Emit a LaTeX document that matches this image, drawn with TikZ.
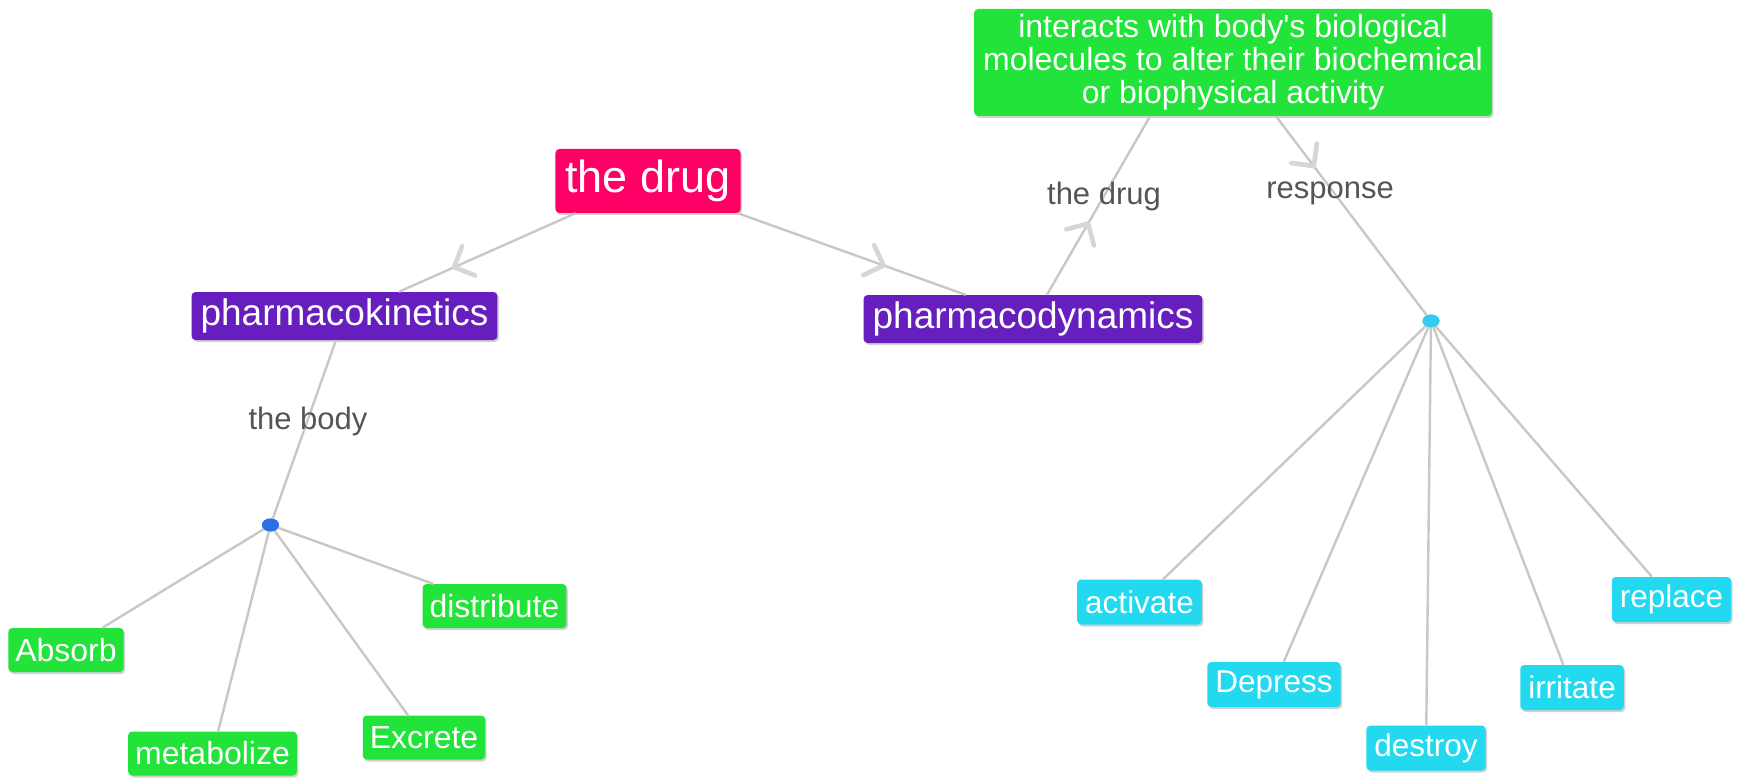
\documentclass[tikz,border=0pt]{standalone}
\usepackage{fontspec}
\setmainfont{Liberation Sans}
\usetikzlibrary{arrows.meta,shapes.geometric,shadows,calc,decorations.markings}

\definecolor{cred}{HTML}{FF0066}
\definecolor{cpurple}{HTML}{661EBE}
\definecolor{cgreen}{HTML}{22E33A}
\definecolor{ccyan}{HTML}{22D9EF}
\definecolor{cline}{HTML}{C8C8C8}
\definecolor{carrow}{HTML}{D6D6D6}
\definecolor{clabel}{HTML}{555555}
\definecolor{cdotL}{HTML}{2E6FE8}
\definecolor{cdotR}{HTML}{33CCEE}

\tikzset{
 box/.style={rounded corners=4pt, text=white, inner ysep=0pt, align=center,
   drop shadow={shadow xshift=1.5pt, shadow yshift=-2pt, opacity=0.18, fill=black}},
 rootbox/.style={box, fill=cred, font=\fontsize{45}{48}\selectfont, inner xsep=10pt, minimum height=64pt},
 midbox/.style={box, fill=cpurple, font=\fontsize{37}{40}\selectfont, inner xsep=9pt, minimum height=48pt},
 leafG/.style={box, fill=cgreen, font=\fontsize{32}{34}\selectfont, inner xsep=7pt, minimum height=44pt},
 leafC/.style={box, fill=ccyan, font=\fontsize{31.5}{34}\selectfont, inner xsep=8pt, minimum height=45pt},
 topbox/.style={box, fill=cgreen, font=\fontsize{32}{33}\selectfont, inner xsep=9pt, minimum height=107pt},
 linklabel/.style={text=clabel, font=\fontsize{31}{34}\selectfont, inner sep=0pt},
 hub/.style={ellipse, inner sep=0pt, minimum width=17pt, minimum height=13pt},
 link/.style={draw=cline, line width=2.4pt},
 arrowat/.style={postaction={decorate, decoration={markings,
   mark=at position #1 with {\arrow[carrow, line width=4.6pt]{Straight Barb[length=16pt, width=32pt, round]}}}}},
}

\begin{document}
\begin{tikzpicture}[x=1pt, y=-1pt]
\fill[white] (0,0) rectangle (1748,778);
\useasboundingbox (0,0) rectangle (1748,778);

% main nodes
\node[topbox] (top) at (1233,62.5) {interacts with body\textquotesingle s biological\\molecules to alter their biochemical\\or biophysical activity};
\node[rootbox] (drug) at (648,181) {the drug};
\node[midbox] (pk) at (344.5,316) {pharmacokinetics};
\node[midbox] (pd) at (1033,319) {pharmacodynamics};

% hubs
\node[hub, fill=cdotL] (dotL) at (270.5,525) {};
\node[hub, fill=cdotR] (dotR) at (1431,321) {};

% left leaves
\node[leafG] (absorb) at (66,650) {Absorb};
\node[leafG] (metab) at (212.5,753.5) {metabolize};
\node[leafG] (excrete) at (424,737.5) {Excrete};
\node[leafG] (distrib) at (494.5,606) {distribute};

% right leaves
\node[leafC] (activate) at (1139.5,602) {activate};
\node[leafC] (depress) at (1274,684.5) {Depress};
\node[leafC] (destroy) at (1426,748) {destroy};
\node[leafC] (irritate) at (1572,687.5) {irritate};
\node[leafC] (replace) at (1671.5,599.5) {replace};

% attachment points on the top box
\coordinate (gA) at ($(top.south west)!0.34!(top.south east)$);
\coordinate (gB) at ($(top.south west)!0.583!(top.south east)$);

% connectors
\draw[link, arrowat=0.70] (drug) -- (pk);
\draw[link, arrowat=0.65] (drug) -- (pd);
\draw[link, arrowat=0.41] (pd) -- (gA);
\draw[link, arrowat=0.26] (gB) -- (dotR);
\draw[link] (pk) -- (dotL);

\draw[link] (dotL) -- (absorb);
\draw[link] (dotL) -- (metab);
\draw[link] (dotL) -- (excrete);
\draw[link] (dotL) -- (distrib);

\draw[link] (dotR) -- (activate);
\draw[link] (dotR) -- (depress);
\draw[link] (dotR) -- (destroy);
\draw[link] (dotR) -- (irritate);
\draw[link] (dotR) -- (replace);

% redraw hubs on top
\node[hub, fill=cdotL] at (dotL) {};
\node[hub, fill=cdotR] at (dotR) {};

% linking phrases
\node[linklabel] (lblDrug) at (1104,196) {the drug};
\node[linklabel] (lblResp) at (1330,193) {response};
\node[linklabel] (lblBody) at (308,421) {the body};
\end{tikzpicture}
\end{document}
